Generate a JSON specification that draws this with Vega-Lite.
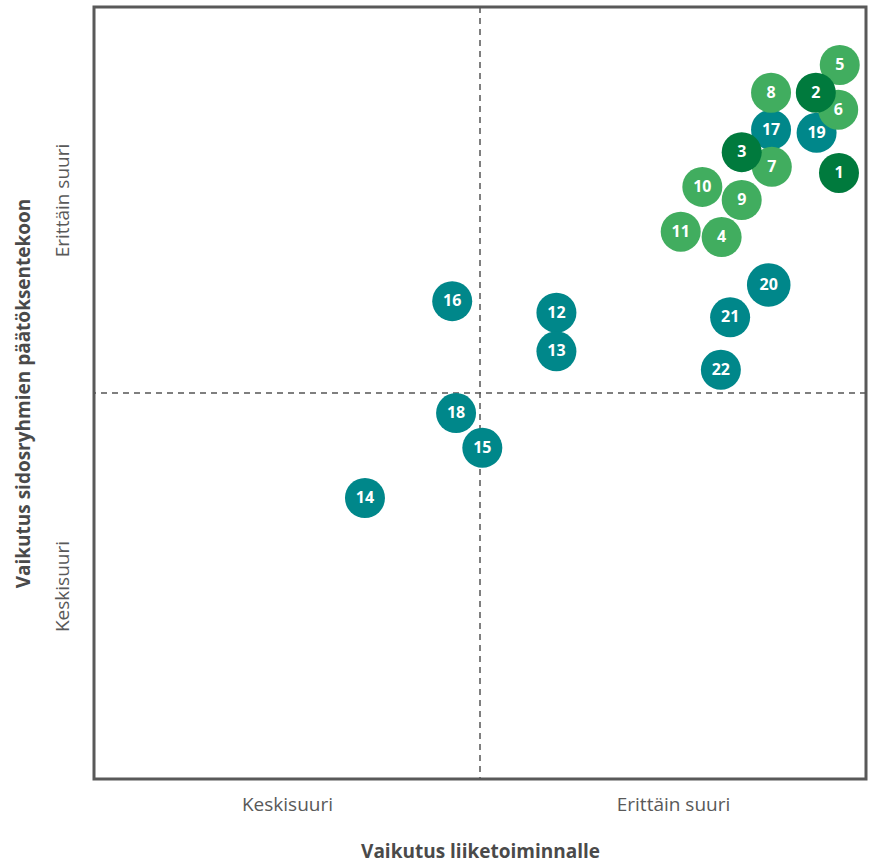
{
  "$schema": "https://vega.github.io/schema/vega-lite/v6.json",
  "width": 772,
  "height": 772,
  "autosize": {"type": "none"},
  "padding": {"left": 94, "top": 7, "right": 7, "bottom": 85},
  "background": "white",
  "config": {
    "view": {"stroke": "#595959", "strokeWidth": 3},
    "font": "Open Sans"
  },
  "datasets": {
    "points": [
      {"id": 14, "ryhma": "teal", "x": 35.1, "y": 36.4},
      {"id": 16, "ryhma": "teal", "x": 46.4, "y": 61.9},
      {"id": 18, "ryhma": "teal", "x": 46.9, "y": 47.4},
      {"id": 15, "ryhma": "teal", "x": 50.3, "y": 42.9},
      {"id": 12, "ryhma": "teal", "x": 59.9, "y": 60.4},
      {"id": 13, "ryhma": "teal", "x": 59.9, "y": 55.4},
      {"id": 22, "ryhma": "teal", "x": 81.2, "y": 53.0},
      {"id": 21, "ryhma": "teal", "x": 82.4, "y": 59.8},
      {"id": 20, "ryhma": "teal", "x": 87.4, "y": 64.0},
      {"id": 11, "ryhma": "light", "x": 76.0, "y": 70.9},
      {"id": 4, "ryhma": "light", "x": 81.3, "y": 70.2},
      {"id": 10, "ryhma": "light", "x": 78.8, "y": 76.7},
      {"id": 9, "ryhma": "light", "x": 83.9, "y": 75.0},
      {"id": 17, "ryhma": "teal", "x": 87.7, "y": 84.1},
      {"id": 8, "ryhma": "light", "x": 87.7, "y": 88.9},
      {"id": 7, "ryhma": "light", "x": 87.8, "y": 79.3},
      {"id": 3, "ryhma": "dark", "x": 83.9, "y": 81.2},
      {"id": 19, "ryhma": "teal", "x": 93.6, "y": 83.7},
      {"id": 5, "ryhma": "light", "x": 96.6, "y": 92.5},
      {"id": 6, "ryhma": "light", "x": 96.4, "y": 86.7},
      {"id": 2, "ryhma": "dark", "x": 93.5, "y": 88.9},
      {"id": 1, "ryhma": "dark", "x": 96.5, "y": 78.5}
    ],
    "mid": [{"x": 50, "y": 50}]
  },
  "layer": [
    {
      "data": {"name": "mid"},
      "mark": {"type": "rule", "strokeDash": [6, 5], "color": "#555555", "strokeWidth": 1.5},
      "encoding": {
        "x": {
          "field": "x", "type": "quantitative",
          "scale": {"domain": [0, 100], "nice": false, "zero": false},
          "axis": {
            "values": [25, 75],
            "labelExpr": "datum.value == 75 ? 'Erittäin suuri' : 'Keskisuuri'",
            "title": "Vaikutus liiketoiminnalle",
            "grid": false, "ticks": false, "tickSize": 0, "domain": false,
            "labelFontSize": 19, "labelColor": "#595959", "labelBaseline": "middle",
            "labelPadding": 25, "labelFont": "Open Sans",
            "titleFontSize": 19, "titleFontWeight": "bold", "titleColor": "#4a4a4a",
            "titleFont": "Open Sans", "titleBaseline": "middle", "titleY": 72
          }
        }
      }
    },
    {
      "data": {"name": "mid"},
      "mark": {"type": "rule", "strokeDash": [6, 5], "color": "#555555", "strokeWidth": 1.5},
      "encoding": {
        "y": {
          "field": "y", "type": "quantitative",
          "scale": {"domain": [0, 100], "nice": false, "zero": false},
          "axis": {
            "values": [25, 75],
            "labelExpr": "datum.value == 75 ? 'Erittäin suuri' : 'Keskisuuri'",
            "title": "Vaikutus sidosryhmien päätöksentekoon",
            "grid": false, "ticks": false, "tickSize": 0, "domain": false,
            "labelFontSize": 19, "labelColor": "#595959", "labelAngle": -90,
            "labelAlign": "center", "labelBaseline": "middle", "labelPadding": 32,
            "labelFont": "Open Sans",
            "titleFontSize": 19, "titleFontWeight": "bold", "titleColor": "#4a4a4a",
            "titleFont": "Open Sans", "titleAngle": -90, "titleAlign": "center",
            "titleBaseline": "middle", "titleX": -71, "titleY": 386
          }
        }
      }
    },
    {
      "data": {"name": "points"},
      "mark": {"type": "circle", "opacity": 1, "stroke": null},
      "encoding": {
        "x": {"field": "x", "type": "quantitative"},
        "y": {"field": "y", "type": "quantitative"},
        "color": {
          "field": "ryhma", "type": "nominal", "legend": null,
          "scale": {"domain": ["light", "dark", "teal"], "range": ["#41AD5F", "#007A3D", "#00878A"]}
        },
        "size": {"condition": {"test": "datum.id == 20", "value": 1900}, "value": 1600}
      }
    },
    {
      "data": {"name": "points"},
      "mark": {"type": "text", "color": "white", "fontWeight": "bold", "fontSize": 16, "font": "Open Sans", "baseline": "middle", "align": "center"},
      "encoding": {
        "x": {"field": "x", "type": "quantitative"},
        "y": {"field": "y", "type": "quantitative"},
        "text": {"field": "id", "type": "quantitative"}
      }
    }
  ]
}
